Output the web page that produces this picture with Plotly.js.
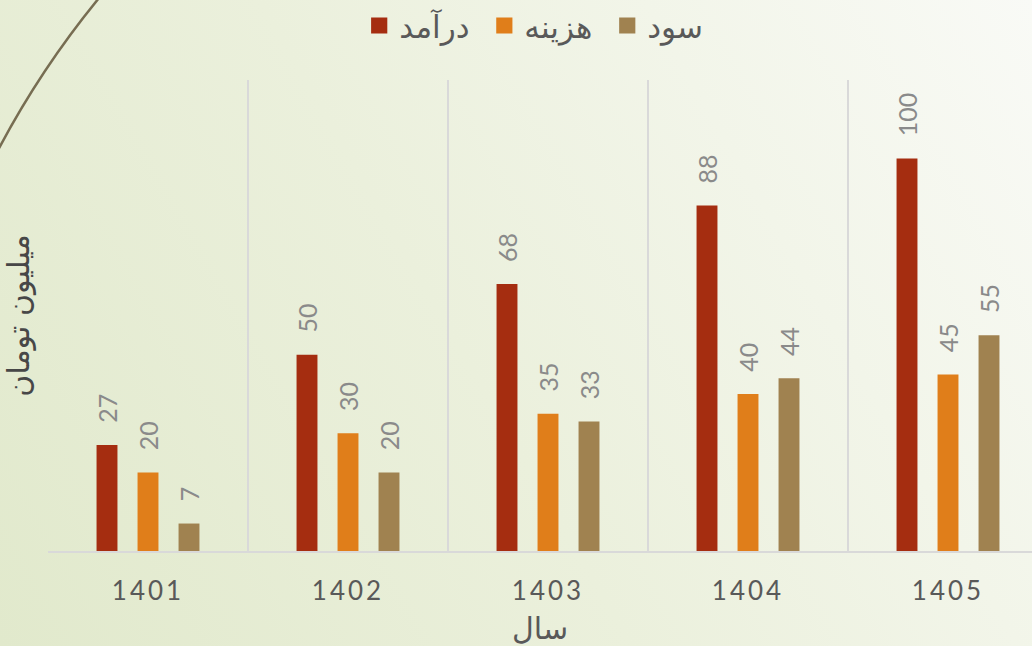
<!DOCTYPE html>
<html>
<head>
<meta charset="utf-8">
<script src="https://cdn.plot.ly/plotly-3.0.1.min.js"></script>
<style>
  html, body { margin: 0; padding: 0; overflow: hidden; }
  body {
    width: 1032px; height: 646px;
    background: linear-gradient(60deg, #e1e9cc 0%, #ebf0dc 45%, #f9faf6 100%);
    position: relative;
  }
  #deco { position: absolute; left: 0; top: 0; }
  #chart { position: absolute; left: 0; top: 0; width: 1032px; height: 646px; }
  .xtick text { letter-spacing: 3px; }
</style>
</head>
<body>
<svg id="deco" width="1032" height="646">
  <path d="M -3 152 Q 40 70 99 -2" stroke="#776d52" stroke-width="2.5" fill="none"/>
</svg>
<div id="chart"></div>
<script>
const years = ['1401', '1402', '1403', '1404', '1405'];
const revenue = [27, 50, 68, 88, 100];
const cost = [20, 30, 35, 40, 45];
const profit = [7, 20, 33, 44, 55];
const seriesNames = ['درآمد', 'هزینه', 'سود'];
const seriesColors = ['#a52d10', '#e07e1a', '#a08250'];
const yTitle = 'میلیون تومان';
const xTitle = 'سال';

const values = [revenue, cost, profit];
const persianFont = 'DejaVu Sans, sans-serif';
const numFont = 'Lato, sans-serif';

const traces = values.map((v, i) => ({
  type: 'bar',
  name: seriesNames[i] + '\u00a0',
  x: years,
  y: v,
  marker: { color: seriesColors[i] },
  text: v.map(n => '\u00a0\u00a0\u00a0' + n),
  textposition: 'outside',
  textangle: -90,
  constraintext: 'none',
  cliponaxis: false,
  textfont: { family: numFont, size: 25, color: '#8a8a8a' },
  hoverinfo: 'x+y+name'
}));

const layout = {
  width: 1032,
  height: 646,
  paper_bgcolor: 'rgba(0,0,0,0)',
  plot_bgcolor: 'rgba(0,0,0,0)',
  margin: { l: 48, r: 0, t: 80, b: 95, autoexpand: false },
  barmode: 'group',
  bargap: 0.385,
  bargroupgap: 0.49,
  showlegend: true,
  legend: {
    orientation: 'h',
    xref: 'container', yref: 'container',
    x: 0.522, xanchor: 'center',
    y: 0.96, yanchor: 'middle',
    font: { family: persianFont, size: 31, color: '#595959' },
    itemwidth: 30,
    traceorder: 'normal'
  },
  xaxis: {
    type: 'category',
    range: [-0.5, 4.42],
    tickson: 'boundaries',
    showgrid: true,
    gridcolor: '#d9d9d9',
    gridwidth: 2,
    showline: true,
    linecolor: '#d9d9d9',
    linewidth: 2,
    ticks: '',
    ticklabelstandoff: 16,
    tickfont: { family: numFont, size: 26, color: '#595959' },
    title: { text: xTitle, font: { family: persianFont, size: 30, color: '#595959' }, standoff: 14 }
  },
  yaxis: {
    range: [0, 120],
    showgrid: false,
    zeroline: false,
    showticklabels: false,
    ticks: '',
    title: { text: yTitle, font: { family: persianFont, size: 30, color: '#474747' }, standoff: 8 }
  }
};

function enlargeLegendSymbols(gd) {
  gd.querySelectorAll('.legend .legendpoints path').forEach(p => {
    const t = p.getAttribute('transform') || '';
    if (!/scale/.test(t)) p.setAttribute('transform', t + ' scale(1.35)');
  });
}

Plotly.newPlot('chart', traces, layout, { displayModeBar: false, responsive: false }).then(gd => {
  enlargeLegendSymbols(gd);
  gd.on('plotly_afterplot', () => enlargeLegendSymbols(gd));
});
</script>
</body>
</html>
